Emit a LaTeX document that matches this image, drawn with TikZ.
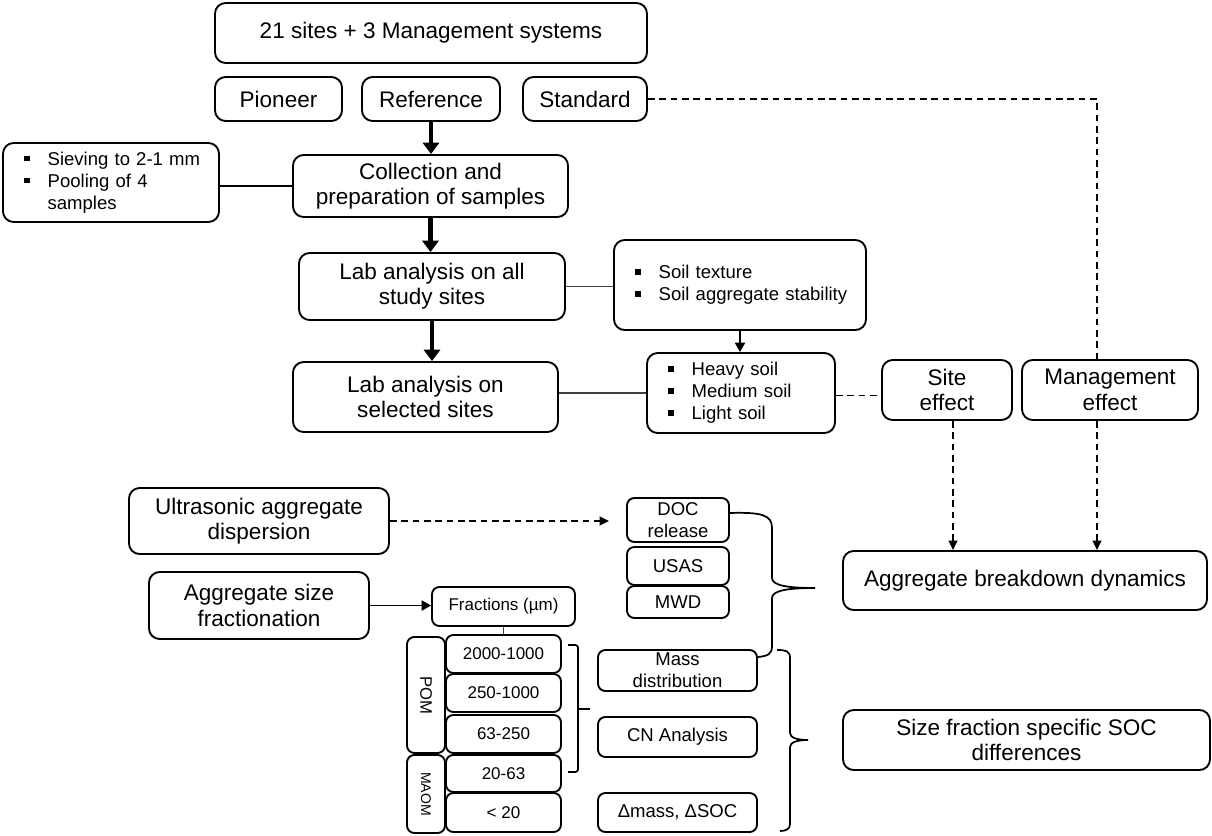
\documentclass[tikz,border=0pt]{standalone}
\usepackage{fontspec}
\setmainfont{Liberation Sans}
\usetikzlibrary{arrows.meta}
\newcommand\sqbul{\raisebox{0.22em}{\rule{0.3em}{0.3em}}}
\newcommand\bitem[1]{\makebox[17.5pt][l]{\sqbul}\mbox{#1}}
\newcommand\bcont[1]{\makebox[17.5pt][l]{}\mbox{#1}}
\begin{document}
\begin{tikzpicture}[x=0.75pt,y=-0.75pt,
  wh/.style 2 args={minimum width={#1*0.75pt}, minimum height={#2*0.75pt}},
  box/.style={draw, line width=1.4pt, rounded corners=8pt, align=center, inner sep=0pt},
  sbox/.style={box, rounded corners=5.5pt},
  big/.style={font=\fontsize{16.9}{19}\selectfont},
  med/.style={font=\fontsize{13.9}{16.5}\selectfont},
  sml/.style={font=\fontsize{12.75}{15}\selectfont},
  bullets/.style={align=left, inner xsep=16pt},
  fatarrow/.style={line width=3.6pt, -{Triangle[width=12pt,length=8.5pt]}},
  arr/.style={line width=1.3pt, -{Triangle[width=7.5pt,length=7pt]}},
  thinline/.style={line width=0.8pt, black!75},
  plainline/.style={line width=1.3pt},
  dline/.style={line width=1.1pt, dash pattern=on 5pt off 3.5pt},
  darr/.style={dline, -{Triangle[width=6.5pt,length=7pt]}},
  brace/.style={line width=1.3pt}
]
\useasboundingbox (0,0) rectangle (1212,835);

% top
\node[box,big,wh={432}{60}] (top) at (431,33) {21 sites + 3 Management systems};
\node[box,big,wh={127}{44}] (pio) at (278.5,99) {Pioneer};
\node[box,big,wh={138}{44}] (ref) at (431,99) {Reference};
\node[box,big,wh={124}{44}] (std) at (585,99) {Standard};

% main column
\node[box,big,wh={275}{62}] (coll) at (430.5,186) {Collection and\\preparation of samples};
\node[box,med,bullets,wh={216}{79},text width={162pt-32pt}] (sieve) at (111,182.5)
  {\bitem{Sieving to 2-1 mm}\\\bitem{Pooling of 4}\\\bcont{samples}};
\node[box,big,wh={266}{67}] (laball) at (432,286.5) {Lab analysis on all\\study sites};
\node[box,med,bullets,wh={252}{90},text width={189pt-32pt}] (tex) at (740,285)
  {\bitem{Soil texture}\\\bitem{Soil aggregate stability}};
\node[box,big,wh={265}{70}] (labsel) at (425.5,397) {Lab analysis on\\selected sites};
\node[box,med,bullets,wh={188}{80},text width={141pt-32pt}] (heavy) at (741,393)
  {\bitem{Heavy soil}\\\bitem{Medium soil}\\\bitem{Light soil}};
\node[box,big,wh={130}{60}] (site) at (947,390) {Site\\effect};
\node[box,big,wh={176}{60}] (mgmt) at (1110,390) {Management\\effect};

% results
\node[box,big,wh={364}{59}] (agg) at (1025,580.5) {Aggregate breakdown dynamics};
\node[box,big,wh={367}{60}] (soc) at (1026.5,740) {Size fraction specific SOC\\differences};

% methods
\node[box,big,wh={260}{66}] (ultra) at (259,521) {Ultrasonic aggregate\\dispersion};
\node[box,big,wh={220}{67}] (asf) at (259,605.5) {Aggregate size\\fractionation};
\node[sbox,sml,wh={143}{39}] (frac) at (503.5,606.5) {Fractions (µm)};
\node[sbox,sml,wh={115}{38}] (f1) at (503.5,654) {2000-1000};
\node[sbox,sml,wh={115}{38}] (f2) at (503.5,693) {250-1000};
\node[sbox,sml,wh={115}{38}] (f3) at (503.5,734) {63-250};
\node[sbox,sml,wh={115}{37}] (f4) at (503.5,773.5) {20-63};
\node[sbox,sml,wh={115}{39}] (f5) at (503.5,812.5) {< 20};
\node[sbox,rotate=-90,wh={116}{38},font=\fontsize{12.5}{14}\selectfont] (pom) at (426,695) {POM};
\node[sbox,rotate=-90,wh={78}{38},font=\fontsize{10.5}{12}\selectfont] (maom) at (426,794) {MAOM};

% measurements
\node[sbox,med,wh={102}{44}] (doc) at (678,520) {DOC\\release};
\node[sbox,med,wh={102}{38}] (usas) at (678,566) {USAS};
\node[sbox,med,wh={102}{32}] (mwd) at (678,602) {MWD};
\node[sbox,med,wh={159}{41}] (mass) at (677.5,670.5) {Mass\\distribution};
\node[sbox,med,wh={159}{40}] (cn) at (677.5,737) {CN Analysis};
\node[sbox,med,wh={159}{39}] (dm) at (677.5,812.5) {Δmass, ΔSOC};

% column coordinates for dashed lines
\coordinate (mcol) at (1097,0);
\coordinate (scol) at (953,0);

% connectors
\draw[fatarrow] (ref.south) -- (ref.south |- coll.north);
\draw[fatarrow] (coll.south) -- (coll.south |- laball.north);
\draw[fatarrow] (laball.south) -- (laball.south |- labsel.north);
\draw[plainline] (coll.west) -- (coll.west -| sieve.east);
\draw[thinline] (laball.east) -- (laball.east -| tex.west);
\draw[thinline] (heavy.west) -- (heavy.west -| labsel.east);
\draw[arr] (tex.south) -- (tex.south |- heavy.north);
\draw[dline] ([yshift=-2pt]heavy.east) -- ([yshift=-2pt]heavy.east -| site.west);
\draw[dline] (std.east) -- (std.east -| mcol) -- (mcol |- mgmt.north);
\draw[darr] (mcol |- mgmt.south) -- (mcol |- agg.north);
\draw[darr] (scol |- site.south) -- (scol |- agg.north);
\draw[darr, shorten >=12.75pt] (ultra.east) -- (ultra.east -| doc.west);
\draw[arr] (asf.east) -- (asf.east -| frac.west);
\draw[thinline] (frac.south) -- (frac.south |- f1.north);

% braces
\draw[brace] (729,513) .. controls (762,512) and (772,515) .. (772,528) -- (772,578)
  .. controls (772,586) and (790,588) .. (815,588)
  .. controls (790,588) and (772,590) .. (772,598) -- (772,646)
  .. controls (772,654) and (768,656) .. (758,657);
\draw[brace] (777,650) .. controls (786,650) and (790,651) .. (790,658) -- (790,733)
  .. controls (790,738) and (798,740) .. (808,740)
  .. controls (798,740) and (790,742) .. (790,747) -- (790,824)
  .. controls (790,829) and (786,831) .. (780,831);
\draw[brace, rounded corners=2pt] (568,645) -| (578,772) -- (568,772);
\draw[brace] (578,709) -- (590,709);
\end{tikzpicture}
\end{document}
